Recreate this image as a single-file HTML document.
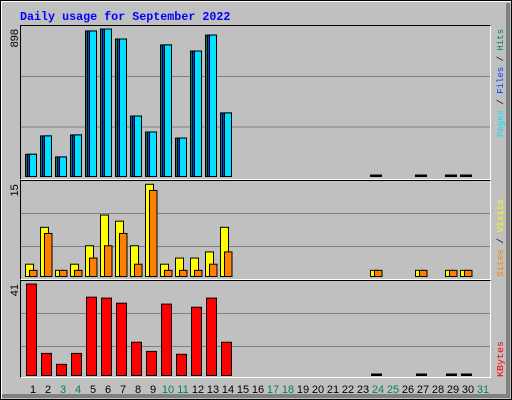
<!DOCTYPE html>
<html><head><meta charset="utf-8"><style>
html,body{margin:0;padding:0;background:#c0c0c0;}
svg{display:block;}
text{font-family:"Liberation Sans",sans-serif;}
</style></head><body>
<svg id="chart" width="512" height="400" xmlns="http://www.w3.org/2000/svg">
<rect x="0" y="0" width="512" height="400" fill="#c0c0c0"/>
<polyline points="1,399 1,1 511,1" fill="none" stroke="#ffffff" stroke-width="2"/>
<polyline points="2,396 508,396 508,3" fill="none" stroke="#808080" stroke-width="4"/>
<rect x="0.5" y="0.5" width="511" height="399" fill="none" stroke="#000" stroke-width="1"/>
<text x="20" y="20" font-family="Liberation Mono, monospace" font-weight="bold" font-size="11.7" fill="#0000ff" style="font-family:'Liberation Mono',monospace">Daily usage for September 2022</text>
<g id="panels"></g>
<g id="marks"></g>
<g id="labels"></g>
</svg>
<script>
const days = [];
for (let i = 1; i <= 31; i++) days.push(i);
const hits   = [135,247,119,253,886,898,837,368,271,801,234,764,861,387,0,0,0,0,0,0,0,0,0,1,0,0,1,0,1,1,0];
const files  = [135,247,119,253,886,898,837,368,271,801,234,764,861,387,0,0,0,0,0,0,0,0,0,1,0,0,1,0,1,1,0];
const pages  = [135,247,119,253,886,898,837,368,271,801,234,764,861,387,0,0,0,0,0,0,0,0,0,1,0,0,1,0,1,1,0];
const visits = [2,8,1,2,5,10,9,5,15,2,3,3,4,8,0,0,0,0,0,0,0,0,0,1,0,0,1,0,1,1,0];
const sites  = [1,7,1,1,3,5,7,2,14,1,1,1,2,4,0,0,0,0,0,0,0,0,0,1,0,0,1,0,1,1,0];
const kbytes = [41,9.9,5,9.9,35.1,34.7,32.4,14.9,10.8,32,9.5,30.6,34.7,14.9,0,0,0,0,0,0,0,0,0,0.1,0,0,0.1,0,0.1,0.1,0];
const weekend = [3,4,10,11,17,18,24,25,31];
const maxLabels = ["898","15","41"];

const NS = "http://www.w3.org/2000/svg";
function mk(tag, attrs, parent) {
  const e = document.createElementNS(NS, tag);
  for (const k in attrs) e.setAttribute(k, attrs[k]);
  parent.appendChild(e);
  return e;
}
const P = document.getElementById('panels');
const M = document.getElementById('marks');
const L = document.getElementById('labels');

const panels = [
  {top:25, bottom:180, base:176.5, peak:29, max:898},
  {top:180, bottom:280, base:276.5, peak:184.3, max:15},
  {top:280, bottom:378, base:375.5, peak:284, max:41}
];
const grids = [[76.5,127],[213.5,246.5],[313.5,346.5]];
panels.forEach((p, i) => {
  const r = mk('rect', {x:20, y:p.top, width:471, height:p.bottom-p.top, fill:'#c0c0c0'}, P);
  
  
  grids[i].forEach(g => {
    const l = mk('line', {x1:21, x2:490, y1:g, y2:g, stroke:'#808080', 'stroke-width':1}, P);
    
    
  });
  const f1 = mk('polyline', {points:`20.5,${p.bottom} 20.5,${p.top+0.5} 491,${p.top+0.5}`, fill:'none', stroke:'#000'}, P);
  
  
  const f2 = mk('polyline', {points:`20.5,${p.bottom-0.5} 490.5,${p.bottom-0.5} 490.5,${p.top+0.5}`, fill:'none', stroke:'#fff'}, P);
  
  
  const t = mk('text', {transform:`translate(18,${p.peak}) rotate(-90)`, 'text-anchor':'end', 'font-size':11, fill:'#000'}, L);
  t.textContent = maxLabels[i];
  
  
});
function yv(p, v) { return p.base - v / p.max * (p.base - p.peak); }
function xd(i) { return 25 + i * 15; }
function bar(p, i, v, off, w, color, name) {
  if (!v) return;
  let y = yv(p, v);
  let h = p.base - y;
  if (h < 1.5) { y = p.base - 1.5; h = 1.5; color = '#000'; }
  const r = mk('rect', {x:xd(i)+off+0.5, y:y, width:w, height:h, fill:color, stroke:'#000', 'stroke-width':1}, M);
  
  
}
days.forEach((d, i) => {
  bar(panels[0], i, hits[i], 0, 11, '#00805c', 'hits');
  bar(panels[0], i, files[i], 2, 9, '#0040ff', 'files');
  bar(panels[0], i, pages[i], 4, 7, '#00e0ff', 'pages');
  bar(panels[1], i, visits[i], 0, 8, '#ffff00', 'visits');
  bar(panels[1], i, sites[i], 4, 7.5, '#ff8000', 'sites');
  bar(panels[2], i, kbytes[i], 1, 10, '#ff0000', 'kbytes');
  const t = mk('text', {x:xd(i)+8, y:393, 'text-anchor':'middle', 'font-size':11, fill: weekend.includes(d) ? '#00805c' : '#000'}, L);
  t.textContent = String(d);
  
  
});
function vlabel(yBottom, yTop, parts, name) {
  const t = mk('text', {transform:`translate(503,${yBottom}) rotate(-90)`, 'font-size':9.5, textLength: yBottom - yTop, lengthAdjust:'spacingAndGlyphs', 'font-family':'Liberation Mono, monospace', style:"font-family:'Liberation Mono',monospace"}, L);
  
  
  parts.forEach(([s, c]) => { const sp = mk('tspan', {fill:c}, t); sp.textContent = s; });
}
vlabel(137, 29, [['Pages','#00e0ff'],[' / ','#000'],['Files','#0040ff'],[' / ','#000'],['Hits','#00805c']], 'legend-pages-files-hits');
vlabel(277, 199, [['Sites','#ff8000'],[' / ','#000'],['Visits','#ffff00']], 'legend-sites-visits');
vlabel(377, 341, [['KBytes','#ff0000']], 'legend-kbytes');
</script>
</body></html>
